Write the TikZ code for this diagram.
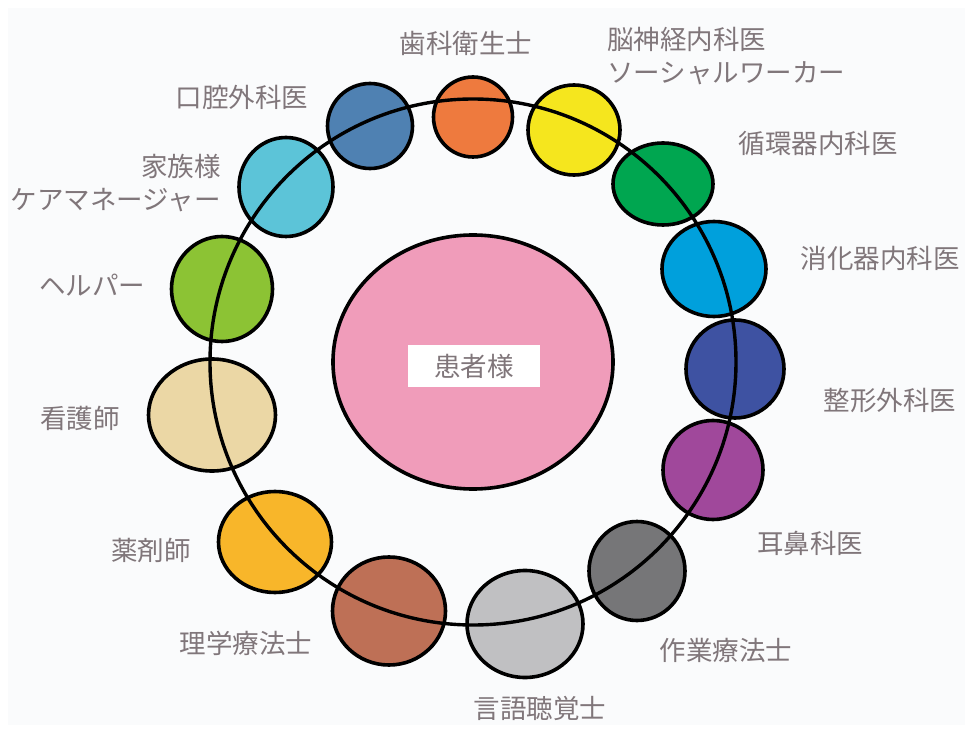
\documentclass[tikz,border=0pt]{standalone}
\usepackage{fontspec}
\newfontfamily\jp{Noto Sans CJK JP}
\usetikzlibrary{shapes.geometric}
\definecolor{bgc}{RGB}{250,251,252}
\definecolor{txt}{RGB}{128,118,122}
\definecolor{cOrange}{RGB}{238,122,62}
\definecolor{cSteel}{RGB}{79,129,178}
\definecolor{cYellow}{RGB}{245,230,30}
\definecolor{cGreen}{RGB}{0,166,80}
\definecolor{cCyan}{RGB}{0,160,220}
\definecolor{cNavy}{RGB}{62,82,162}
\definecolor{cPurple}{RGB}{160,72,155}
\definecolor{cDGray}{RGB}{118,118,120}
\definecolor{cLGray}{RGB}{192,192,194}
\definecolor{cBrown}{RGB}{190,112,86}
\definecolor{cGold}{RGB}{248,182,42}
\definecolor{cBeige}{RGB}{235,215,165}
\definecolor{cLime}{RGB}{140,195,52}
\definecolor{cSky}{RGB}{92,196,216}
\definecolor{cPink}{RGB}{240,156,186}
\tikzset{
  member/.style={ellipse, draw=black, line width=3.6pt, inner sep=0pt},
  lbl/.style={font=\jp\fontsize{26.5}{33}\selectfont, text=txt, inner sep=0pt},
}
\begin{document}
\begin{tikzpicture}[x=1pt,y=-1pt]
\useasboundingbox (0,0) rectangle (970,730);
\fill[white] (0,0) rectangle (970,730);
\fill[bgc] (8,8) rectangle (965,725);
% center
\node[ellipse, draw=black, line width=3.6pt, fill=cPink, minimum width=280, minimum height=254, inner sep=0pt] (patient) at (473,362) {};
\node[fill=white, minimum width=132, minimum height=42, inner sep=0pt, font=\jp\fontsize{26.5}{33}\selectfont, text=txt] (ptext) at (474,366) {患者様};
% members
\node[member, fill=cOrange, minimum width=79, minimum height=80] (dh) at (473,117) {};
\node[member, fill=cYellow, minimum width=92, minimum height=90] (neuro) at (574,130) {};
\node[member, fill=cGreen, minimum width=100, minimum height=82] (cardio) at (663,184) {};
\node[member, fill=cCyan, minimum width=104, minimum height=95] (gastro) at (714,269) {};
\node[member, fill=cNavy, minimum width=98, minimum height=98] (ortho) at (735,369) {};
\node[member, fill=cPurple, minimum width=100, minimum height=99] (ent) at (713,470) {};
\node[member, fill=cDGray, minimum width=96, minimum height=99] (ot) at (637,571) {};
\node[member, fill=cLGray, minimum width=116, minimum height=107] (st) at (525,624) {};
\node[member, fill=cBrown, minimum width=113, minimum height=108] (pt) at (389,611) {};
\node[member, fill=cGold, minimum width=113, minimum height=101] (pharm) at (275,542) {};
\node[member, fill=cBeige, minimum width=127, minimum height=112] (nurse) at (212,415) {};
\node[member, fill=cLime, minimum width=101, minimum height=105] (helper) at (222,289) {};
\node[member, fill=cSky, minimum width=94, minimum height=99] (family) at (286,187) {};
\node[member, fill=cSteel, minimum width=85, minimum height=85] (oral) at (370,126) {};
% ring
\node[circle, draw=black, line width=3.4pt, minimum size=526, inner sep=0pt] (ring) at (473,362) {};
% labels
\node[lbl] (ldh) at (466,43) {歯科衛生士};
\node[lbl, anchor=west, align=left] (lneuro) at (607,56) {脳神経内科医\\ソーシャルワーカー};
\node[lbl] (lcardio) at (818,143) {循環器内科医};
\node[lbl] (lgastro) at (880,258) {消化器内科医};
\node[lbl] (lortho) at (890,400) {整形外科医};
\node[lbl] (lent) at (810,543) {耳鼻科医};
\node[lbl] (lot) at (726,650) {作業療法士};
\node[lbl] (lst) at (540,708) {言語聴覚士};
\node[lbl] (lpt) at (246,643) {理学療法士};
\node[lbl] (lpharm) at (151,550) {薬剤師};
\node[lbl] (lnurse) at (80,418) {看護師};
\node[lbl] (lhelper) at (92,285) {ヘルパー};
\node[lbl, anchor=east, align=right] (lfamily) at (221,183) {家族様\\ケアマネージャー};
\node[lbl] (loral) at (242,97) {口腔外科医};
\end{tikzpicture}
\end{document}
